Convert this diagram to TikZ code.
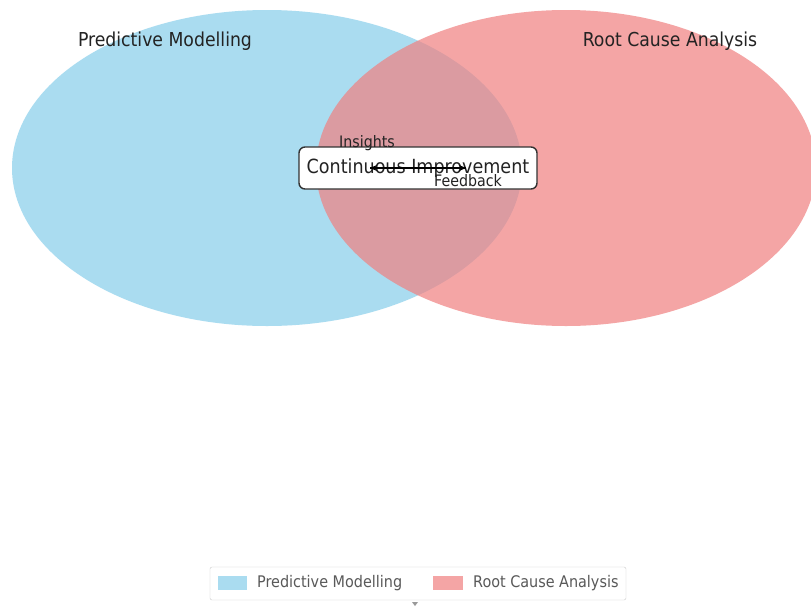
\documentclass[tikz,border=0pt]{standalone}
\usepackage{fontspec}
\setmainfont{DejaVu Sans Condensed}
\usetikzlibrary{arrows.meta}
\definecolor{bluefill}{RGB}{135,206,235}
\definecolor{redfill}{RGB}{240,128,128}
\definecolor{txt}{RGB}{35,35,35}
\begin{document}
\begin{tikzpicture}[x=1pt,y=-1pt,
  setlabel/.style={font=\fontsize{19.2}{21}\selectfont, text=txt},
  smalllabel/.style={font=\fontsize{15.8}{17}\selectfont, text=txt},
  legtext/.style={font=\fontsize{16}{18}\selectfont, text=black!65},
  flow/.style={-{Stealth[length=7pt,width=6pt]}, line width=1.2pt, black}]
\useasboundingbox (0,0) rectangle (811,608);
\fill[white] (0,0) rectangle (811,608);
\begin{scope}
\clip (0,0) rectangle (811,608);
\fill[bluefill, fill opacity=0.7] (267,168) ellipse [x radius=255, y radius=158];
\fill[redfill, fill opacity=0.7] (566,168) ellipse [x radius=250, y radius=158];
\end{scope}
\node[setlabel] (pm) at (165,41) {Predictive Modelling};
\node[setlabel] (rca) at (670,41) {Root Cause Analysis};
\node[draw=black!80, fill=white, rounded corners=6pt, line width=1.4pt,
  minimum width=238pt, minimum height=42pt, inner sep=0pt,
  font=\fontsize{19.5}{21}\selectfont, text=txt] (ci) at (418,168) {Continuous Improvement};
\coordinate (ai) at (370,168);
\coordinate (af) at (466,168);
\draw[flow] (af) -- (ai);
\draw[flow] (ai) -- (af);
\node[smalllabel] (ins) at (367,143) {Insights};
\node[smalllabel] (fb) at (468,181) {Feedback};
% legend
\node[draw=black!20, fill=white, rounded corners=2pt, minimum width=416pt, minimum height=33pt, inner sep=0pt] (leg) at (418,583.5) {};
\fill[bluefill, fill opacity=0.7] (218,576) rectangle (247,590);
\node[legtext, anchor=west, inner sep=0pt] (l1) at (257,583) {Predictive Modelling};
\fill[redfill, fill opacity=0.7] (433,576) rectangle (463,590);
\node[legtext, anchor=west, inner sep=0pt] (l2) at (473,583) {Root Cause Analysis};
\fill[black!40] (412,602) -- (418,602) -- (415,606) -- cycle;
\end{tikzpicture}
\end{document}
